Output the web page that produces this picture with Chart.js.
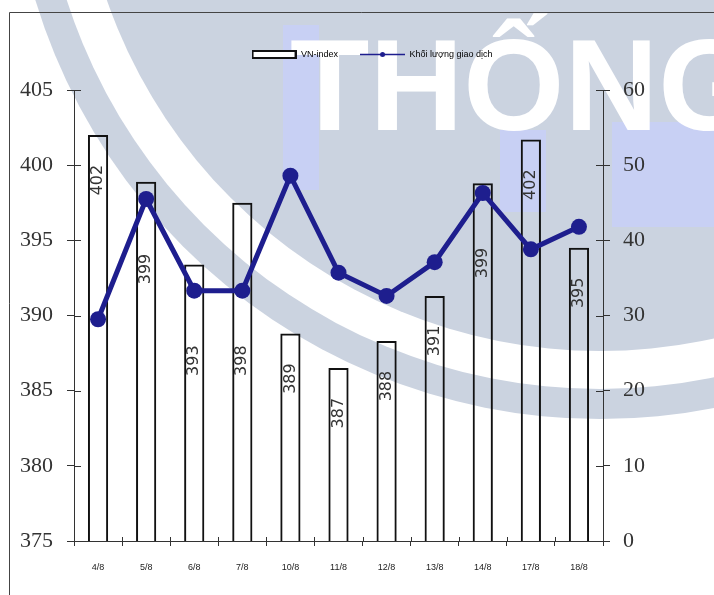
<!DOCTYPE html>
<html lang="vi">
<head>
  <meta charset="UTF-8">
  <title>VN-index và khối lượng giao dịch</title>
  <script src="https://cdn.jsdelivr.net/npm/chart.js"></script>
  <style>
    body {
      margin: 0;
      background: #fff;
    }
    canvas {
      display: block;
    }
  </style>
</head>
<body>
  <canvas id="chart" width="714" height="595"></canvas>
  <script>
    const dates = ['4/8', '5/8', '6/8', '7/8', '10/8', '11/8', '12/8', '13/8', '14/8', '17/8', '18/8'];
    const vnIndex = [402.0, 398.9, 393.4, 397.5, 388.8, 386.5, 388.3, 391.3, 398.8, 401.7, 394.5];
    const volume = [29.5, 45.5, 33.3, 33.3, 48.6, 35.7, 32.6, 37.1, 46.3, 38.8, 41.8];
    const leftTicks = { min: 375, max: 405, step: 5 };
    const rightTicks = { min: 0, max: 60, step: 10 };

    const navy = '#1e1e8e';
    const axisColor = '#333';

    // little legend symbols: flat box for the bars, line with a dot for the volume
    function makeIcon(draw) {
      const c = document.createElement('canvas');
      c.width = 45;
      c.height = 9;
      draw(c.getContext('2d'));
      return c;
    }
    const barIcon = makeIcon(g => {
      g.fillStyle = '#fff';
      g.fillRect(1, 1, 43, 7);
      g.strokeStyle = '#111';
      g.lineWidth = 2;
      g.strokeRect(1, 1, 43, 7);
    });
    const lineIcon = makeIcon(g => {
      g.strokeStyle = navy;
      g.lineWidth = 1.5;
      g.beginPath();
      g.moveTo(0, 4.5);
      g.lineTo(45, 4.5);
      g.stroke();
      g.fillStyle = navy;
      g.beginPath();
      g.arc(22.5, 4.5, 2.5, 0, Math.PI * 2);
      g.fill();
    });

    // background watermark of the scanned page
    const watermark = {
      id: 'watermark',
      beforeDraw(chart) {
        const ctx = chart.ctx;
        const w = chart.width, h = chart.height;
        ctx.save();
        ctx.fillStyle = '#fff';
        ctx.fillRect(0, 0, w, h);
        const gray = '#cbd3e0';
        ctx.fillStyle = gray;
        ctx.beginPath(); ctx.arc(600, -171, 590, 0, Math.PI * 2); ctx.fill();
        ctx.fillStyle = '#fff';
        ctx.beginPath(); ctx.arc(600, -171, 560, 0, Math.PI * 2); ctx.fill();
        ctx.fillStyle = gray;
        ctx.beginPath(); ctx.arc(600, -171, 522, 0, Math.PI * 2); ctx.fill();

        ctx.fillStyle = '#c8d0f4';
        ctx.fillRect(283, 25, 36, 165);
        ctx.fillRect(500, 130, 46, 82);
        ctx.fillRect(612, 122, 102, 105);

        ctx.fillStyle = '#fff';
        ctx.font = 'bold 130px "Liberation Sans"';
        ctx.textBaseline = 'alphabetic';
        ctx.textAlign = 'left';
        ctx.fillText('THỐNG', 290, 130);

        ctx.strokeStyle = '#444';
        ctx.lineWidth = 1;
        ctx.beginPath();
        ctx.moveTo(9.5, h);
        ctx.lineTo(9.5, 12.5);
        ctx.lineTo(w, 12.5);
        ctx.stroke();
        ctx.restore();
      }
    };

    // leave a gap between the legend row and the plot
    const legendGap = {
      id: 'legendGap',
      afterInit(chart) {
        const fit = chart.legend.fit;
        chart.legend.fit = function () {
          fit.call(this);
          this.height += 21;
        };
      }
    };

    // rotated value labels inside the bars
    const barLabels = {
      id: 'barLabels',
      afterDatasetDraw(chart, args) {
        if (args.index !== 0) return;
        const ctx = chart.ctx;
        const bars = chart.getDatasetMeta(0).data;
        const pts = chart.getDatasetMeta(1).data;
        ctx.save();
        ctx.font = '16px "DejaVu Sans"';
        ctx.fillStyle = '#333';
        ctx.textAlign = 'center';
        ctx.textBaseline = 'middle';
        bars.forEach((bar, i) => {
          let y = bar.y + 45;
          if (pts[i] && Math.abs(y - pts[i].y) < 45) y = pts[i].y + 70;
          ctx.save();
          ctx.translate(bar.x, y);
          ctx.rotate(-Math.PI / 2);
          ctx.fillText(String(Math.round(vnIndex[i])), 0, 0);
          ctx.restore();
        });
        ctx.restore();
      }
    };

    // tick marks cross the axes, so draw the inner half too
    const innerTicks = {
      id: 'innerTicks',
      afterDraw(chart) {
        const { ctx, chartArea, scales } = chart;
        ctx.save();
        ctx.strokeStyle = axisColor;
        ctx.lineWidth = 1;
        ctx.beginPath();
        scales.y.ticks.forEach(t => {
          const py = Math.round(scales.y.getPixelForValue(t.value)) + 0.5;
          ctx.moveTo(chartArea.left, py);
          ctx.lineTo(chartArea.left + 7, py);
        });
        scales.y1.ticks.forEach(t => {
          const py = Math.round(scales.y1.getPixelForValue(t.value)) + 0.5;
          ctx.moveTo(chartArea.right, py);
          ctx.lineTo(chartArea.right - 7, py);
        });
        for (let i = 0; i <= dates.length; i++) {
          const px = Math.round(scales.x.getPixelForValue(i - 0.5)) + 0.5;
          ctx.moveTo(px, chartArea.bottom);
          ctx.lineTo(px, chartArea.bottom - 4);
        }
        ctx.stroke();
        ctx.restore();
      }
    };

    const serif = { family: '"Liberation Serif", "Times New Roman", serif', size: 22 };

    new Chart(document.getElementById('chart'), {
      data: {
        labels: dates,
        datasets: [
          {
            type: 'bar',
            label: 'VN-index',
            data: vnIndex,
            yAxisID: 'y',
            order: 1,
            backgroundColor: 'rgba(255,255,255,0)',
            borderColor: '#111',
            borderWidth: 2,
            barPercentage: 0.42,
            categoryPercentage: 1
          },
          {
            type: 'line',
            label: 'Khối lượng giao dịch',
            data: volume,
            yAxisID: 'y1',
            order: 0,
            borderColor: navy,
            backgroundColor: navy,
            borderWidth: 5,
            pointRadius: 8,
            pointBackgroundColor: navy,
            pointBorderWidth: 0,
            tension: 0
          }
        ]
      },
      options: {
        responsive: false,
        animation: false,
        devicePixelRatio: 1,
        events: [],
        layout: { padding: { left: 10, right: -20, top: 28, bottom: 0 } },
        plugins: {
          tooltip: { enabled: false },
          legend: {
            position: 'top',
            labels: {
              usePointStyle: true,
              pointStyleWidth: 45,
              boxHeight: 9,
              padding: 22,
              color: '#222',
              font: { family: '"Liberation Sans", Arial, sans-serif', size: 9 },
              generateLabels: () => [
                { text: 'VN-index', pointStyle: barIcon, datasetIndex: 0, fillStyle: 'transparent', strokeStyle: 'transparent', lineWidth: 0 },
                { text: 'Khối lượng giao dịch', pointStyle: lineIcon, datasetIndex: 1, fillStyle: 'transparent', strokeStyle: 'transparent', lineWidth: 0 }
              ]
            }
          }
        },
        scales: {
          x: {
            type: 'category',
            offset: true,
            grid: { offset: true, drawOnChartArea: false, drawTicks: true, tickLength: 5, color: axisColor },
            border: { color: axisColor, width: 1 },
            ticks: {
              color: '#222',
              font: { family: '"Liberation Sans", Arial, sans-serif', size: 9 },
              padding: 16,
              maxRotation: 0,
              autoSkip: false
            },
            afterFit: s => { s.height = 54; }
          },
          y: {
            position: 'left',
            min: leftTicks.min,
            max: leftTicks.max,
            grid: { drawOnChartArea: false, tickLength: 7, color: axisColor },
            border: { color: axisColor, width: 1 },
            ticks: { stepSize: leftTicks.step, color: '#333', font: serif, padding: 14 },
            afterFit: s => { s.width = 64; }
          },
          y1: {
            position: 'right',
            min: rightTicks.min,
            max: rightTicks.max,
            grid: { drawOnChartArea: false, tickLength: 7, color: axisColor },
            border: { color: axisColor, width: 1 },
            ticks: { stepSize: rightTicks.step, color: '#333', font: serif, padding: 13 },
            afterFit: s => { s.width = 131; }
          }
        }
      },
      plugins: [watermark, legendGap, barLabels, innerTicks]
    });
  </script>
</body>
</html>
